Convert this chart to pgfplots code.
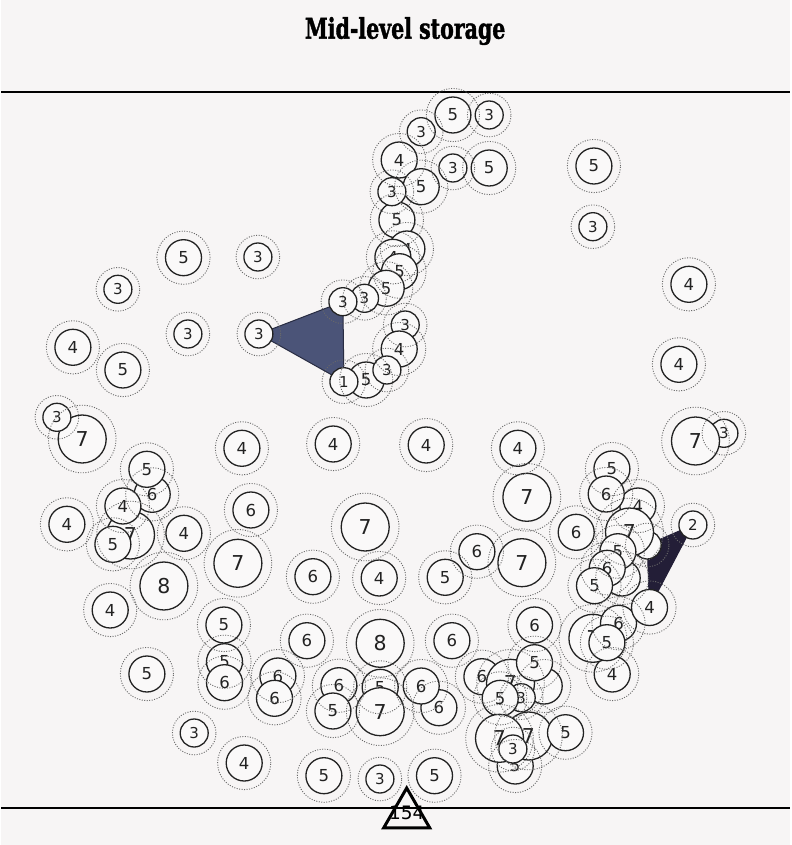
\documentclass[border=0pt]{standalone}
\usepackage{fontspec}
\usepackage{pgfplots}
\pgfplotsset{compat=1.18}
\usepackage{pgfplotstable}
\setmainfont{DejaVu Sans}
\newfontfamily\titlefont{DejaVu Serif Condensed}[BoldFeatures={FakeBold=1.6}]

\definecolor{bg}{RGB}{247,245,245}
\definecolor{circfill}{RGB}{250,249,249}
\definecolor{circline}{RGB}{34,34,34}
\definecolor{ringcol}{RGB}{105,105,105}
\definecolor{triA}{RGB}{75,84,120}
\definecolor{triAline}{RGB}{40,44,66}
\definecolor{triB}{RGB}{35,30,55}

% circle with its count in the middle
\pgfdeclareplotmark{numcirc}{%
  \pgfpathcircle{\pgfpointorigin}{\rad pt}%
  \pgfusepathqfillstroke
  \pgfmathtruncatemacro\nn{\lbl}%
  \ifnum\nn>0\relax
    \ifdim\rad pt>20pt \def\fs{20.5}\else
      \ifdim\rad pt>15pt \def\fs{16.5}\else\def\fs{15}\fi\fi
    \pgftext{\color{circline}\fontsize{\fs}{\fs}\selectfont\nn}%
  \fi
}
% dotted outer ring
\pgfdeclareplotmark{ring}{%
  \pgfmathsetmacro\rr{1.2*\rad+5}%
  \pgfsetdash{{1pt}{1.5pt}}{0pt}%
  \pgfpathcircle{\pgfpointorigin}{\rr pt}%
  \pgfusepathqstroke
}

% x y (pixels), r = circle radius, n = count (0 = hidden)
\pgfplotstableread{
x y r n
398 160 18 4
451.7 115 18 5
488 115 14 3
420 131.7 14 3
451.7 168 14 3
488 168 18 5
395.7 220 18 5
420 186.7 18 5
390.7 191.7 14 3
405.7 249 18 4
391.7 257.3 18 4
398.3 271.7 18 5
385 288.3 18 5
363.3 298.3 14 3
341.7 301.7 14 3
404 325 14 3
398 349 18 4
365 380 18 5
385.7 370 14 3
342.7 381.7 14 1
256.7 257 14 3
182.3 257.7 18 5
116.7 289.3 14 3
186.7 334 14 3
257.7 334 14 3
71.7 347.3 18 4
121.7 370 18 5
81 439 24 7
55.7 417.3 14 3
592.7 166 18 5
591.7 226.7 14 3
687.7 284.3 18 4
677.7 364.3 18 4
722.7 433.3 14 3
694.3 441 24 7
240.7 448.3 18 4
332 444 18 4
425 445 18 4
516.7 448.3 18 4
129.3 535 24 7
151 494.3 18 6
145.7 469.3 18 5
121.7 506 18 4
111.7 544.3 18 5
65.7 524.3 18 4
182.7 533.3 18 4
249.7 510 18 6
236.7 563.3 24 7
162.7 586 24 8
109 610 18 4
364 527 24 7
311.7 576.7 18 6
378 578 18 4
444 577.3 18 5
475.7 551.7 18 6
525.7 497.3 24 7
520.7 562.7 24 7
636.7 506 18 4
610.7 469 18 5
605 494 18 6
646 545 14 0
628.3 532 24 7
575 532.3 18 6
621 578 18 0
616.7 551.7 18 5
606 568.3 18 6
593.3 585.7 18 5
691.7 525 14 2
611 674 18 4
591.7 638.3 24 7
617.3 623.3 18 6
605.7 642.7 18 5
648.3 607.5 18 4
533.3 625 18 6
222.7 625 18 5
305.7 640.7 18 6
379 643.3 24 8
450.7 640.7 18 6
145.7 674 18 5
223.3 661.7 18 5
223.3 682.7 18 6
276.7 676 18 6
273.3 698.3 18 6
337.7 685.7 18 6
331.7 711 18 5
379 687.3 18 5
379 711.7 24 7
437.7 707.7 18 6
420 686 18 6
543 686 18 0
480.7 676.7 18 6
509.3 683.3 24 7
533.3 662.7 18 5
520 697.7 14 3
499 698.3 18 5
514 766 18 5
527.3 736 24 7
498.3 738.3 24 7
511.7 749 14 3
564.3 732.7 18 5
193 733 14 3
243 763 18 4
322.7 775.7 18 5
378.7 779 14 3
433.3 775.7 18 5
}\circles

\begin{document}
\begin{tikzpicture}
\begin{axis}[
  scale only axis, width=789pt, height=845pt,
  xmin=0, xmax=789, ymin=0, ymax=845, y dir=reverse,
  hide axis, clip=false,
]
\fill[bg] (axis cs:0,0) rectangle (axis cs:789,845);
\draw[line width=2.4pt] (axis cs:0,92) -- (axis cs:789,92);
\draw[line width=2.2pt] (axis cs:0,808) -- (axis cs:789,808);

% links
\addplot[fill=triA, draw=triAline, line width=1pt]
  coordinates {(257.7,334) (341.7,301.7) (342.7,381.7)} -- cycle;
\addplot[fill=triB, draw=triB, line width=1pt]
  coordinates {(691.7,525) (646,545) (648.3,607.5)} -- cycle;

% circles
\addplot[scatter, only marks, mark=numcirc,
  point meta=\thisrow{r},
  scatter/use mapped color={draw=circline, fill=circfill},
  mark options={line width=1.3pt, solid},
  visualization depends on={\thisrow{r} \as \rad},
  visualization depends on={\thisrow{n} \as \lbl},
] table[x=x, y=y] {\circles};

% rings
\addplot[scatter, only marks, mark=ring,
  point meta=\thisrow{r},
  scatter/use mapped color={draw=ringcol},
  mark options={line width=0.9pt},
  visualization depends on={\thisrow{r} \as \rad},
] table[x=x, y=y] {\circles};

% total
\addplot[only marks, mark=triangle, mark size=26.5,
  mark options={draw=black, fill=bg, line width=3pt},
  nodes near coords, point meta=explicit symbolic,
  every node near coord/.style={anchor=center, yshift=1.5pt,
    font=\fontsize{18.5}{18.5}\selectfont, text=black},
] coordinates {(405.5,814.5) [154]};

\node[font=\titlefont\bfseries\fontsize{28.5}{28.5}\selectfont]
  at (axis cs:404,31) {\scalebox{0.8}[1]{Mid-level storage}};
\end{axis}
\end{tikzpicture}
\end{document}
